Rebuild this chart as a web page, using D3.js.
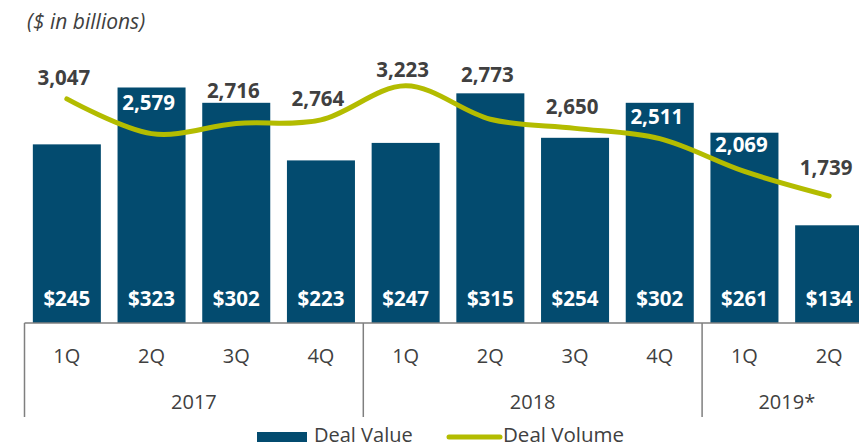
<!DOCTYPE html>
<html>
<head>
<meta charset="utf-8">
<script src="https://cdn.jsdelivr.net/npm/d3@7"></script>
<style>
  html, body { margin: 0; padding: 0; background: #fff; }
  svg { display: block; font-family: "Open Sans", sans-serif; }
</style>
</head>
<body>
<svg id="chart" width="859" height="448"></svg>
<script>
// ---- data ----
const quarters = ["1Q","2Q","3Q","4Q","1Q","2Q","3Q","4Q","1Q","2Q"];
const years = ["2017","2018","2019*"];
const yearOfQuarter = [0,0,0,0,1,1,1,1,2,2];
const dealValue = [245, 323, 302, 223, 247, 315, 254, 302, 261, 134];
const dealVolume = [3047, 2579, 2716, 2764, 3223, 2773, 2650, 2511, 2069, 1739];

// ---- layout / style (not data) ----
const volLabelDy = [-14, -24, -25, -14, -9, -37, -14, -15, -19, -21];
const volLabelWhite = [false, true, false, false, false, false, false, true, true, false];
const barColor = "#034b6f";
const lineColor = "#b3bc00";
const textColor = "#404040";
const axisColor = "#7f7f7f";

const svg = d3.select("#chart");
const baseY = 323;
const idx = d3.range(quarters.length);

const x = d3.scaleBand().domain(idx).range([24.5, 24.5 + 84.7 * quarters.length]).paddingInner(0.197).paddingOuter(0.0985);
const yVal = d3.scaleLinear().domain([0, 443]).range([baseY, 0]);
const yVol = d3.scaleLinear().domain([0, 4380]).range([325, 0]);
const step = x.step();
const left0 = x.range()[0];
const bandStart = i => left0 + i * step;

// title
svg.append("text").attr("x", 27).attr("y", 29)
  .attr("font-size", 21).attr("font-style", "italic").attr("fill", textColor)
  .text("($ in billions)");

// bars
svg.append("g").selectAll("rect").data(idx).join("rect")
  .attr("x", i => x(i)).attr("width", x.bandwidth())
  .attr("y", i => yVal(dealValue[i])).attr("height", i => baseY - yVal(dealValue[i]))
  .attr("fill", barColor);

// value labels
svg.append("g").selectAll("text").data(idx).join("text")
  .attr("x", i => x(i) + x.bandwidth() / 2).attr("y", 306)
  .attr("text-anchor", "middle").attr("font-weight", 700).attr("font-size", 20.5)
  .attr("fill", "#fff")
  .text(i => "$" + dealValue[i]);

// line
const line = d3.line()
  .x(i => x(i) + x.bandwidth() / 2)
  .y(i => yVol(dealVolume[i]))
  .curve(d3.curveCardinal.tension(0));
svg.append("path").datum(idx).attr("d", line)
  .attr("fill", "none").attr("stroke", lineColor).attr("stroke-width", 5)
  .attr("stroke-linecap", "round");

// volume labels
svg.append("g").selectAll("text").data(idx).join("text")
  .attr("x", i => x(i) + x.bandwidth() / 2 - 3)
  .attr("y", i => yVol(dealVolume[i]) + volLabelDy[i])
  .attr("text-anchor", "middle").attr("font-weight", 700).attr("font-size", 20.5)
  .attr("fill", i => volLabelWhite[i] ? "#fff" : textColor)
  .text(i => d3.format(",")(dealVolume[i]));

// axis
const axisG = svg.append("g");
axisG.append("line").attr("x1", left0).attr("x2", 859).attr("y1", baseY).attr("y2", baseY)
  .attr("stroke", axisColor).attr("stroke-width", 1.5);
// group separators
const groupStarts = years.map((_, k) => yearOfQuarter.indexOf(k));
const groupEnds = years.map((_, k) => yearOfQuarter.lastIndexOf(k) + 1);
const seps = Array.from(new Set(groupStarts.concat(groupEnds)));
axisG.selectAll("line.sep").data(seps).join("line").attr("class", "sep")
  .attr("x1", i => bandStart(i)).attr("x2", i => bandStart(i))
  .attr("y1", baseY).attr("y2", 417)
  .attr("stroke", axisColor).attr("stroke-width", 1.5);
// quarter labels
axisG.selectAll("text.q").data(idx).join("text").attr("class", "q")
  .attr("x", i => x(i) + x.bandwidth() / 2).attr("y", 363)
  .attr("text-anchor", "middle").attr("font-size", 20).attr("fill", textColor)
  .text(i => quarters[i]);
// year labels
axisG.selectAll("text.y").data(years).join("text").attr("class", "y")
  .attr("x", (d, k) => (bandStart(groupStarts[k]) + bandStart(groupEnds[k])) / 2)
  .attr("y", 409)
  .attr("text-anchor", "middle").attr("font-size", 20).attr("fill", textColor)
  .text(d => d);

// legend
const lg = svg.append("g");
lg.append("rect").attr("x", 257).attr("y", 432).attr("width", 50).attr("height", 10).attr("fill", barColor);
lg.append("text").attr("x", 314).attr("y", 442).attr("font-size", 20).attr("fill", textColor).text("Deal Value");
lg.append("line").attr("x1", 449).attr("x2", 500).attr("y1", 437).attr("y2", 437)
  .attr("stroke", lineColor).attr("stroke-width", 5).attr("stroke-linecap", "round");
lg.append("text").attr("x", 503).attr("y", 442).attr("font-size", 20.5).attr("fill", textColor).text("Deal Volume");
</script>
</body>
</html>
